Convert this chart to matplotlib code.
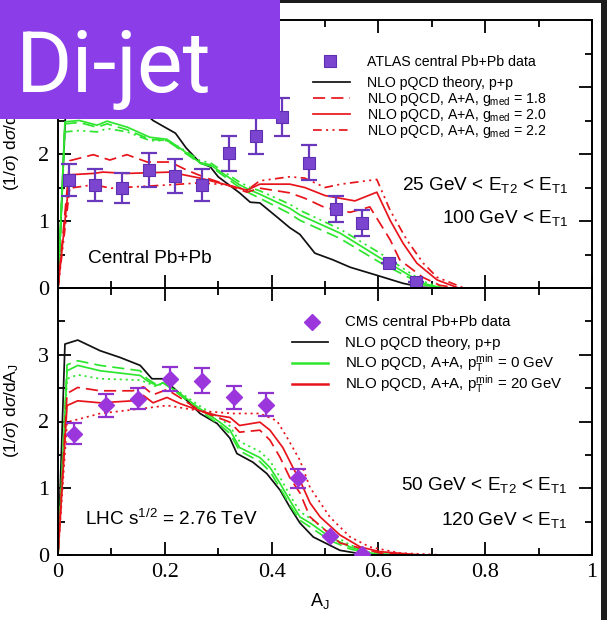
import matplotlib
matplotlib.use("Agg")
import matplotlib.pyplot as plt
from matplotlib.lines import Line2D
from matplotlib.patches import Rectangle
from matplotlib.ticker import MultipleLocator, FixedLocator

plt.rcParams['font.family'] = ['Liberation Sans', 'DejaVu Sans']
plt.rcParams['mathtext.fontset'] = 'custom'
plt.rcParams['mathtext.rm'] = 'Liberation Sans'
plt.rcParams['mathtext.it'] = 'Liberation Sans:italic'
plt.rcParams['mathtext.bf'] = 'Liberation Sans:bold'

# ---------------- ATLAS panel (top) ----------------
atlas_x = [0.02, 0.07, 0.12, 0.17, 0.22, 0.27, 0.32, 0.37, 0.42, 0.47, 0.52, 0.57, 0.62, 0.67]
atlas_y = [1.61, 1.54, 1.49, 1.76, 1.67, 1.54, 2.01, 2.27, 2.55, 1.87, 1.18, 0.97, 0.37, 0.09]
atlas_err = [0.24, 0.24, 0.22, 0.25, 0.25, 0.24, 0.26, 0.27, 0.28, 0.26, 0.20, 0.19, 0.0, 0.0]

pp_top_x = [0.0, 0.02, 0.05, 0.10, 0.15, 0.178, 0.22, 0.24, 0.266, 0.285, 0.30, 0.34, 0.36,
            0.378, 0.41, 0.434, 0.453, 0.481, 0.515, 0.547, 0.597, 0.646, 0.683, 0.72]
pp_top_y = [0.0, 3.7, 3.5, 3.1, 2.7, 2.5, 2.31, 2.09, 1.87, 1.81, 1.66, 1.42, 1.28,
            1.27, 1.06, 0.90, 0.80, 0.52, 0.42, 0.31, 0.19, 0.07, 0.01, 0.0]

grn_top_x = [0.0, 0.013, 0.04, 0.073, 0.092, 0.13, 0.172, 0.204, 0.228, 0.266, 0.285, 0.34,
             0.36, 0.378, 0.434, 0.453, 0.528, 0.603, 0.683, 0.72]
grn_top_solid = [0.0, 2.48, 2.50, 2.43, 2.49, 2.40, 2.25, 2.22, 2.09, 1.87, 1.84, 1.54,
                 1.46, 1.40, 1.19, 1.09, 0.82, 0.45, 0.07, 0.0]
grn_top_dash = [0.0, 2.45, 2.47, 2.40, 2.45, 2.36, 2.22, 2.20, 2.07, 1.86, 1.82, 1.50,
                1.41, 1.34, 1.11, 1.01, 0.74, 0.38, 0.05, 0.0]
grn_top_dashdot = [0.0, 2.33, 2.35, 2.33, 2.38, 2.33, 2.20, 2.20, 2.10, 1.90, 1.87, 1.58,
                   1.50, 1.45, 1.25, 1.16, 0.88, 0.52, 0.10, 0.0]

# g_med = 1.8
red18_x = [0.0, 0.022, 0.066, 0.097, 0.129, 0.167, 0.21, 0.241, 0.272, 0.316, 0.354, 0.378,
           0.434, 0.462, 0.50, 0.547, 0.584, 0.622, 0.64, 0.683, 0.715, 0.75]
red18_y = [0.0, 1.90, 1.99, 1.91, 1.99, 1.88, 1.88, 1.76, 1.66, 1.54, 1.43, 1.49,
           1.42, 1.34, 1.20, 1.13, 1.21, 0.72, 0.42, 0.16, 0.04, 0.0]
# g_med = 2.0
red20_x = [0.0, 0.022, 0.066, 0.084, 0.129, 0.21, 0.266, 0.316, 0.354, 0.378, 0.434, 0.462,
           0.50, 0.556, 0.597, 0.622, 0.646, 0.672, 0.71, 0.75]
red20_y = [0.0, 1.69, 1.71, 1.73, 1.71, 1.73, 1.64, 1.54, 1.46, 1.55, 1.55, 1.50,
           1.38, 1.30, 1.43, 1.01, 0.67, 0.37, 0.12, 0.0]
# g_med = 2.2
red22_x = [0.0, 0.022, 0.066, 0.10, 0.21, 0.266, 0.316, 0.354, 0.378, 0.434, 0.462, 0.50,
           0.53, 0.597, 0.622, 0.653, 0.684, 0.71, 0.76]
red22_y = [0.0, 1.49, 1.54, 1.49, 1.54, 1.57, 1.54, 1.46, 1.60, 1.66, 1.64, 1.50,
           1.55, 1.62, 1.16, 0.72, 0.37, 0.16, 0.0]

# ---------------- CMS panel (bottom) ----------------
cms_x = [0.03, 0.09, 0.15, 0.21, 0.27, 0.33, 0.39, 0.45, 0.51, 0.57]
cms_y = [1.82, 2.24, 2.34, 2.63, 2.61, 2.36, 2.25, 1.15, 0.28, 0.01]
cms_err = [0.16, 0.17, 0.16, 0.18, 0.19, 0.17, 0.17, 0.14, 0.0, 0.0]

pp_bot_x = [0.0, 0.013, 0.037, 0.079, 0.116, 0.154, 0.176, 0.197, 0.228, 0.266, 0.298, 0.322,
            0.335, 0.365, 0.391, 0.416, 0.434, 0.453, 0.478, 0.528, 0.58, 0.62]
pp_bot_y = [0.0, 3.16, 3.22, 3.06, 2.96, 2.84, 2.64, 2.64, 2.42, 2.12, 1.97, 1.75,
            1.52, 1.39, 1.22, 0.97, 0.72, 0.48, 0.27, 0.07, 0.0, 0.0]

grn_bot_x = [0.0, 0.017, 0.037, 0.079, 0.154, 0.167, 0.185, 0.197, 0.228, 0.266, 0.303, 0.322,
             0.34, 0.378, 0.397, 0.416, 0.434, 0.453, 0.472, 0.509, 0.547, 0.584, 0.63]
grn_bot_solid = [0.0, 2.76, 2.84, 2.76, 2.69, 2.61, 2.54, 2.58, 2.42, 2.19, 1.99, 1.87,
                 1.61, 1.46, 1.31, 1.07, 0.82, 0.57, 0.48, 0.27, 0.12, 0.03, 0.0]
grn_bot_dash = [0.0, 2.85, 2.91, 2.84, 2.76, 2.64, 2.55, 2.58, 2.40, 2.16, 1.95, 1.82,
                1.56, 1.40, 1.25, 1.00, 0.75, 0.52, 0.42, 0.22, 0.09, 0.02, 0.0]
grn_bot_dot = [0.0, 2.64, 2.70, 2.64, 2.62, 2.58, 2.52, 2.58, 2.44, 2.23, 2.05, 1.93,
               1.70, 1.55, 1.41, 1.16, 0.90, 0.65, 0.55, 0.33, 0.15, 0.04, 0.0]

redb_solid_x = [0.0, 0.017, 0.037, 0.079, 0.14, 0.16, 0.178, 0.204, 0.228, 0.266, 0.298, 0.322,
                0.34, 0.378, 0.397, 0.421, 0.44, 0.453, 0.472, 0.491, 0.528, 0.566, 0.603, 0.68]
redb_solid_y = [0.0, 2.24, 2.31, 2.28, 2.31, 2.39, 2.28, 2.36, 2.27, 2.16, 2.09, 2.06,
                1.94, 1.99, 1.87, 1.61, 1.31, 1.12, 0.78, 0.57, 0.30, 0.12, 0.05, 0.0]
redb_dash_x = [0.0, 0.017, 0.037, 0.079, 0.14, 0.16, 0.178, 0.204, 0.228, 0.266, 0.322, 0.34,
               0.378, 0.397, 0.416, 0.434, 0.453, 0.472, 0.528, 0.603, 0.66]
redb_dash_y = [0.0, 2.42, 2.51, 2.46, 2.46, 2.52, 2.40, 2.48, 2.36, 2.16, 1.99, 1.84,
               1.87, 1.72, 1.46, 1.16, 0.93, 0.57, 0.18, 0.03, 0.0]
redb_dot_x = [0.0, 0.017, 0.079, 0.154, 0.204, 0.266, 0.328, 0.378, 0.41, 0.429, 0.453, 0.472,
              0.509, 0.547, 0.584, 0.64, 0.72]
redb_dot_y = [0.0, 1.99, 2.12, 2.19, 2.24, 2.16, 2.12, 2.12, 2.01, 1.76, 1.42, 1.01,
              0.57, 0.27, 0.12, 0.03, 0.0]

x_ticks = [0, 0.2, 0.4, 0.6, 0.8, 1]
x_tick_labels = ['0', '0.2', '0.4', '0.6', '0.8', '1']
y_ticks = [0, 1, 2, 3]
y_tick_labels = ['0', '1', '2', '3']

# ---------------- styling ----------------
W, H = 607, 620
RED = '#e8141c'
GREEN = '#2ee62e'
BLACK = '#111111'
SQ_FACE = '#7b45d0'
SQ_EDGE = '#5e2fb0'
DIA_FACE = '#9a36dc'
LW = 1.25
DASH = (0, (7, 3.5))
DASHDOTDOT = (0, (5, 2.5, 1.2, 2.5, 1.2, 2.5))
DOT = (0, (1.2, 2.2))


def fx(px):
    return px / W


def fy(py):
    return 1 - py / H


fig = plt.figure(figsize=(W / 100, H / 100), dpi=100, facecolor='#1c1c1c')
fig.add_artist(Rectangle((0, 0), fx(601), 1 - 3 / H, transform=fig.transFigure,
                         facecolor='white', edgecolor='none', zorder=0))

left, right = fx(58), fx(592)
ax1 = fig.add_axes([left, fy(288), right - left, fy(20) - fy(288)])
ax2 = fig.add_axes([left, fy(555), right - left, fy(288) - fy(555)])

for ax in (ax1, ax2):
    ax.set_xlim(0, 1)
    ax.set_ylim(0, 4)
    ax.xaxis.set_major_locator(FixedLocator(x_ticks))
    ax.xaxis.set_minor_locator(MultipleLocator(0.1))
    ax.yaxis.set_major_locator(FixedLocator(y_ticks))
    ax.yaxis.set_minor_locator(MultipleLocator(0.5))
    ax.tick_params(which='both', direction='in', top=True, right=True, width=1.3)
    ax.tick_params(which='major', length=9.5)
    ax.tick_params(which='minor', length=5)
    ax.tick_params(axis='y', pad=6.5)
    ax.tick_params(axis='x', pad=5.5)
    for s in ax.spines.values():
        s.set_linewidth(1.4)
    ax.set_yticklabels(y_tick_labels, family='Liberation Serif', fontsize=16)
    ax.patch.set_alpha(0)

ax1.set_xticklabels([])
ax2.set_xticklabels(x_tick_labels, family='Liberation Serif', fontsize=16)

# top panel curves
ax1.plot(pp_top_x, pp_top_y, color=BLACK, lw=LW)
ax1.plot(grn_top_x, grn_top_dash, color=GREEN, lw=LW, ls=DASH)
ax1.plot(grn_top_x, grn_top_dashdot, color=GREEN, lw=LW, ls=DASHDOTDOT)
ax1.plot(grn_top_x, grn_top_solid, color=GREEN, lw=LW)
ax1.plot(red18_x, red18_y, color=RED, lw=LW, ls=DASH)
ax1.plot(red20_x, red20_y, color=RED, lw=LW)
ax1.plot(red22_x, red22_y, color=RED, lw=LW, ls=DASHDOTDOT)
ax1.errorbar(atlas_x, atlas_y, yerr=atlas_err, fmt='none', ecolor='#6a38bd',
             elinewidth=1.6, capsize=6, capthick=1.6, zorder=5)
ax1.plot(atlas_x, atlas_y, ls='none', marker='s', ms=8.5, mfc=SQ_FACE, mec=SQ_EDGE,
         mew=0.8, zorder=6)

# bottom panel curves
ax2.plot(pp_bot_x, pp_bot_y, color=BLACK, lw=LW)
ax2.plot(grn_bot_x, grn_bot_dash, color=GREEN, lw=LW, ls=DASH)
ax2.plot(grn_bot_x, grn_bot_dot, color=GREEN, lw=LW, ls=DOT)
ax2.plot(grn_bot_x, grn_bot_solid, color=GREEN, lw=LW)
ax2.plot(redb_dash_x, redb_dash_y, color=RED, lw=LW, ls=DASH)
ax2.plot(redb_dot_x, redb_dot_y, color=RED, lw=LW, ls=DOT)
ax2.plot(redb_solid_x, redb_solid_y, color=RED, lw=LW)
ax2.errorbar(cms_x, cms_y, yerr=cms_err, fmt='none', ecolor='#8e33d0',
             elinewidth=1.6, capsize=6, capthick=1.6, zorder=5)
ax2.plot(cms_x, cms_y, ls='none', marker='D', ms=8, mfc=DIA_FACE, mec=DIA_FACE, zorder=6)

# axis labels
ylab = r'(1/$\sigma$) d$\sigma$/dA$_\mathregular{J}$'
for ax in (ax1, ax2):
    ax.set_ylabel(ylab, fontsize=12.5)
    ax.yaxis.set_label_coords(-0.069, 0.54)
ax2.set_xlabel(r'A$_\mathregular{J}$', fontsize=13)
ax2.xaxis.set_label_coords(0.49, -0.135)

# legends, built from line samples and text


def legend_row(x0, x1, xt, y, label, size, **line_kw):
    fig.add_artist(Line2D([fx(x0), fx(x1)], [fy(y), fy(y)], transform=fig.transFigure, **line_kw))
    fig.text(fx(xt), fy(y + 4.5), label, fontsize=size, va='baseline', ha='left')


TOP_TXT = 10.2
BOT_TXT = 10.8
fig.add_artist(Line2D([fx(330)], [fy(61)], transform=fig.transFigure, ls='none', marker='s',
                      ms=8.5, mfc=SQ_FACE, mec=SQ_EDGE, mew=0.8))
fig.text(fx(367), fy(61 + 4.5), 'ATLAS central Pb+Pb data', fontsize=TOP_TXT, va='baseline')
legend_row(313, 350, 367, 82, 'NLO pQCD theory, p+p', TOP_TXT, color=BLACK, lw=LW)
legend_row(313, 350, 367, 98, r'NLO pQCD, A+A, g$_\mathregular{med}$ = 1.8', TOP_TXT,
           color=RED, lw=LW, ls=DASH)
legend_row(313, 350, 367, 114, r'NLO pQCD, A+A, g$_\mathregular{med}$ = 2.0', TOP_TXT,
           color=RED, lw=LW)
legend_row(313, 350, 367, 130, r'NLO pQCD, A+A, g$_\mathregular{med}$ = 2.2', TOP_TXT,
           color=RED, lw=LW, ls=DASHDOTDOT)

fig.add_artist(Line2D([fx(312)], [fy(322)], transform=fig.transFigure, ls='none', marker='D',
                      ms=8, mfc=DIA_FACE, mec=DIA_FACE))
fig.text(fx(345), fy(322 + 4.5), 'CMS central Pb+Pb data', fontsize=BOT_TXT, va='baseline')
legend_row(292, 328, 345, 342, 'NLO pQCD theory, p+p', BOT_TXT, color=BLACK, lw=LW)
legend_row(292, 328, 345, 363, r'NLO pQCD, A+A, p$_\mathregular{T}^\mathregular{min}$ = 0 GeV',
           BOT_TXT, color=GREEN, lw=1.8)
legend_row(292, 328, 345, 384, r'NLO pQCD, A+A, p$_\mathregular{T}^\mathregular{min}$ = 20 GeV',
           BOT_TXT, color=RED, lw=1.8)

# panel annotations
ANN = 13.7
fig.text(fx(568), fy(190), r'25 GeV < E$_\mathregular{T2}$ < E$_\mathregular{T1}$', fontsize=ANN,
         ha='right', va='baseline')
fig.text(fx(568), fy(223), r'100 GeV < E$_\mathregular{T1}$', fontsize=ANN, ha='right', va='baseline')
fig.text(fx(88), fy(263), 'Central Pb+Pb', fontsize=ANN, ha='left', va='baseline')
fig.text(fx(567), fy(490), r'50 GeV < E$_\mathregular{T2}$ < E$_\mathregular{T1}$', fontsize=ANN,
         ha='right', va='baseline')
fig.text(fx(567), fy(525), r'120 GeV < E$_\mathregular{T1}$', fontsize=ANN, ha='right', va='baseline')
fig.text(fx(85), fy(525), r'LHC s$^\mathregular{1/2}$ = 2.76 TeV', fontsize=ANN, ha='left',
         va='baseline')

# title badge
fig.add_artist(Rectangle((0, fy(119)), fx(280), 119 / H, transform=fig.transFigure,
                         facecolor='#8b3de8', edgecolor='none', zorder=10))
fig.text(fx(16), fy(92), 'Di-jet', fontsize=62, family='Roboto', color='white',
         va='baseline', ha='left', zorder=11)

fig.savefig('out.png', dpi=100, facecolor=fig.get_facecolor())
